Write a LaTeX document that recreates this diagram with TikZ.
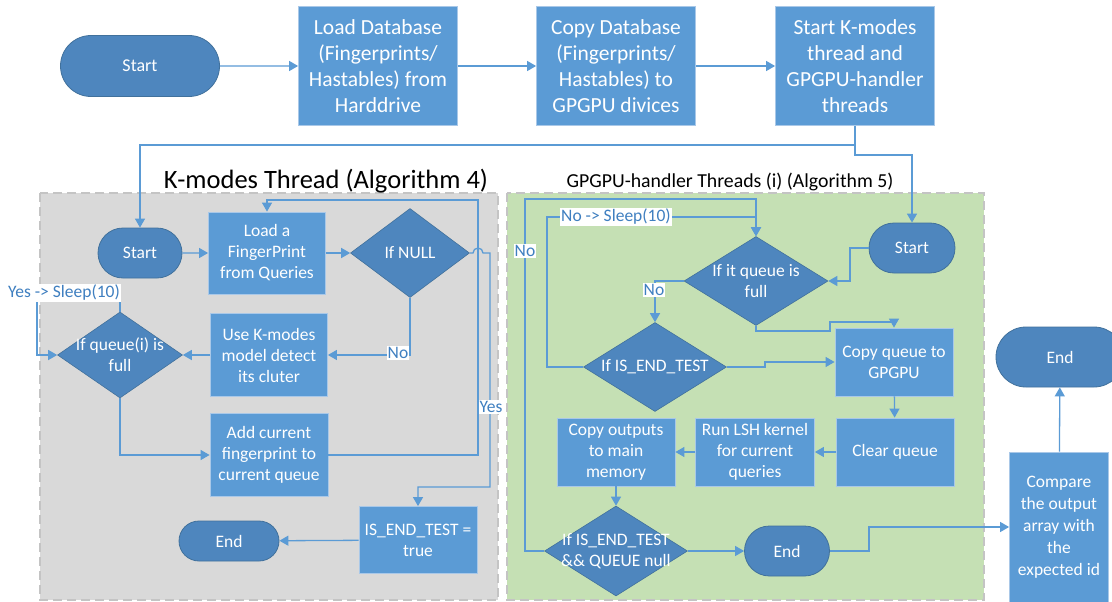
\documentclass[tikz,border=0pt]{standalone}
\usepackage{fontspec}
\setmainfont{Carlito}
\usetikzlibrary{shapes.geometric,shapes.misc,arrows.meta}

\definecolor{boxblue}{HTML}{5B9BD5}
\definecolor{boxedge}{HTML}{A9C8E8}
\definecolor{termblue}{HTML}{4E86BE}
\definecolor{termedge}{HTML}{41719C}
\definecolor{flow}{HTML}{5B9BD5}
\definecolor{lbltext}{HTML}{3F7FC0}
\definecolor{graypanel}{HTML}{D9D9D9}
\definecolor{greenpanel}{HTML}{C5E0B4}
\definecolor{paneledge}{HTML}{C4C4C4}

\tikzset{
  boxnode/.style={rectangle, fill=boxblue, draw=boxedge, line width=0.8pt,
    text=white, align=center, inner sep=0pt,
    font=\fontsize{17.5}{21}\selectfont},
  bigbox/.style={boxnode, minimum width=159pt, minimum height=119pt,
    font=\fontsize{21.5}{26}\selectfont},
  term/.style={rounded rectangle, fill=termblue, draw=termedge, line width=0.8pt,
    text=white, inner sep=0pt, font=\fontsize{17.5}{21}\selectfont},
  dec/.style={diamond, fill=termblue, draw=termedge, line width=0.6pt, inner sep=0pt},
  dectxt/.style={text=white, align=center, font=\fontsize{17.5}{21}\selectfont},
  flowline/.style={draw=flow, line width=1.3pt},
  arr/.style={flowline, -{Triangle[length=9pt,width=10pt]}},
  tag/.style={fill=white, text=lbltext, inner sep=1pt, font=\fontsize{17.5}{20}\selectfont},
  panel/.style={draw=paneledge, dashed, dash pattern=on 9pt off 5pt, line width=1.5pt},
}

\begin{document}
\begin{tikzpicture}[x=1pt,y=-1pt]
\useasboundingbox[fill=white] (0,0) rectangle (1112,602);

% thread panels
\path[panel, fill=graypanel] (40,193) rectangle (498,600);
\path[panel, fill=greenpanel] (507,193) rectangle (984,600);
\node[font=\fontsize{26.5}{30}\selectfont] (ktitle) at (326,181) {K-modes Thread (Algorithm 4)};
\node[font=\fontsize{19.8}{22}\selectfont] (gtitle) at (730,182) {GPGPU-handler Threads (i) (Algorithm 5)};

% main sequence
\node[term, minimum width=159pt, minimum height=61pt, font=\fontsize{18}{21}\selectfont] (s0) at (140,66) {Start};
\node[bigbox] (b1) at (378,66) {Load Database\\(Fingerprints/\\Hastables) from\\Harddrive};
\node[bigbox] (b2) at (616,66) {Copy Database\\(Fingerprints/\\Hastables) to\\GPGPU divices};
\node[bigbox] (b3) at (855,66) {Start K-modes\\thread and\\GPGPU-handler\\threads};

% K-modes thread
\node[term, minimum width=84pt, minimum height=50pt] (ls) at (140,253) {Start};
\node[boxnode, minimum width=117pt, minimum height=82pt] (ld) at (267,253) {Load a\\FingerPrint\\from Queries};
\node[dec, minimum width=119pt, minimum height=89pt, label={[dectxt]center:If NULL}] (nul) at (410,253) {};
\node[boxnode, minimum width=117pt, minimum height=83pt] (uk) at (269,355) {Use K-modes\\model detect\\its cluter};
\node[dec, minimum width=125pt, minimum height=86pt, label={[dectxt]center:If queue(i) is\\full}] (qi) at (120,355) {};
\node[boxnode, minimum width=118pt, minimum height=83pt] (ad) at (269,455) {Add current\\fingerprint to\\current queue};
\node[boxnode, minimum width=118pt, minimum height=67pt] (it) at (418,540) {IS\_END\_TEST =\\true};
\node[term, minimum width=100pt, minimum height=40pt] (le) at (229,541) {End};

% GPGPU-handler threads
\node[term, minimum width=86pt, minimum height=50pt] (rs) at (912,248) {Start};
\node[dec, minimum width=144pt, minimum height=89pt, label={[dectxt]center:If it queue is\\full}] (qf) at (756,281) {};
\node[dec, minimum width=143pt, minimum height=89pt, label={[dectxt]center:If IS\_END\_TEST}] (et) at (655,367) {};
\node[boxnode, minimum width=118pt, minimum height=68pt] (cq) at (894,362) {Copy queue to\\GPGPU};
\node[boxnode, minimum width=118pt, minimum height=68pt] (cl) at (895,452) {Clear queue};
\node[boxnode, minimum width=119pt, minimum height=68pt] (rl) at (755,452) {Run LSH kernel\\for current\\queries};
\node[boxnode, minimum width=118pt, minimum height=68pt] (co) at (616,452) {Copy outputs\\to main\\memory};
\node[dec, minimum width=143pt, minimum height=90pt, label={[dectxt]center:If IS\_END\_TEST\\\&\& QUEUE null}] (en) at (616,551) {};
\node[term, minimum width=85pt, minimum height=50pt] (re) at (787,551) {End};

% final check
\node[boxnode, minimum width=99pt, minimum height=150pt, font=\fontsize{17.5}{22}\selectfont] (cmp) at (1059,527) {Compare\\the output\\array with\\the\\expected id};
\node[term, minimum width=128pt, minimum height=60pt] (fe) at (1060,357) {End};

% routing points
\coordinate (split) at (855,145);
\coordinate (splitb) at (855,155);

% main sequence connectors
\draw[arr] (s0) -- (b1);
\draw[arr] (b1) -- (b2);
\draw[arr] (b2) -- (b3);
\draw[arr] (b3.south) -- (split) -| (ls.north);
\draw[arr] (split) -- (splitb) -| (rs.north);

% K-modes thread connectors
\draw[arr] (ls) -- (ld);
\draw[arr] (ld) -- (nul);
\draw[arr] (nul.south) |- (uk.east);
\draw[arr] (uk) -- (qi);
\draw[arr] (qi.north) -- (120,293) -- (37,293) -- (37,355) -- (qi.west);
\draw[arr] (qi.south) |- (ad.west);
\draw[arr] (ad.east) -- (478,455) -- (478,200) -- (267,200) -- (ld.north);
\draw[arr] (nul.east) -- (473,253) arc[start angle=180, end angle=360, radius=5] -- (490,253) -- (490,487) -- (418,487) -- (it.north);
\draw[arr] (it) -- (le);

\node[tag] (t1) at (64,293) {Yes -> Sleep(10)};
\node[tag] (t2) at (398,353) {No};
\node[tag] (t3) at (491,407) {Yes};

% GPGPU-handler connectors
\draw[arr] (rs.west) -- (850,248) |- (qf.east);
\draw[arr] (qf.west) -| (et.north);
\draw[arr] (et.west) -- (547,367) -- (547,217) -- (756,217) -- (qf.north);
\draw[arr] (en.west) -- (525,551) -- (525,199) -- (756,199) -- (qf.north);
\draw[arr] (et.east) -- (765,367) -- (765,362) -- (cq.west);
\draw[arr] (qf.south) -- (756,331) -- (830,331) -- (830,322) -- (894,322) -- (cq.north);
\draw[arr] (cq) -- (cl);
\draw[arr] (cl) -- (rl);
\draw[arr] (rl) -- (co);
\draw[arr] (co) -- (en);
\draw[arr] (en) -- (re);
\draw[arr] (re.east) -- (869,551) |- (cmp.west);
\draw[arr] (cmp) -- (fe);

\node[tag] (t4) at (616,217) {No -> Sleep(10)};
\node[tag] (t5) at (654,290) {No};
\node[tag] (t6) at (525,251) {No};
\end{tikzpicture}
\end{document}
